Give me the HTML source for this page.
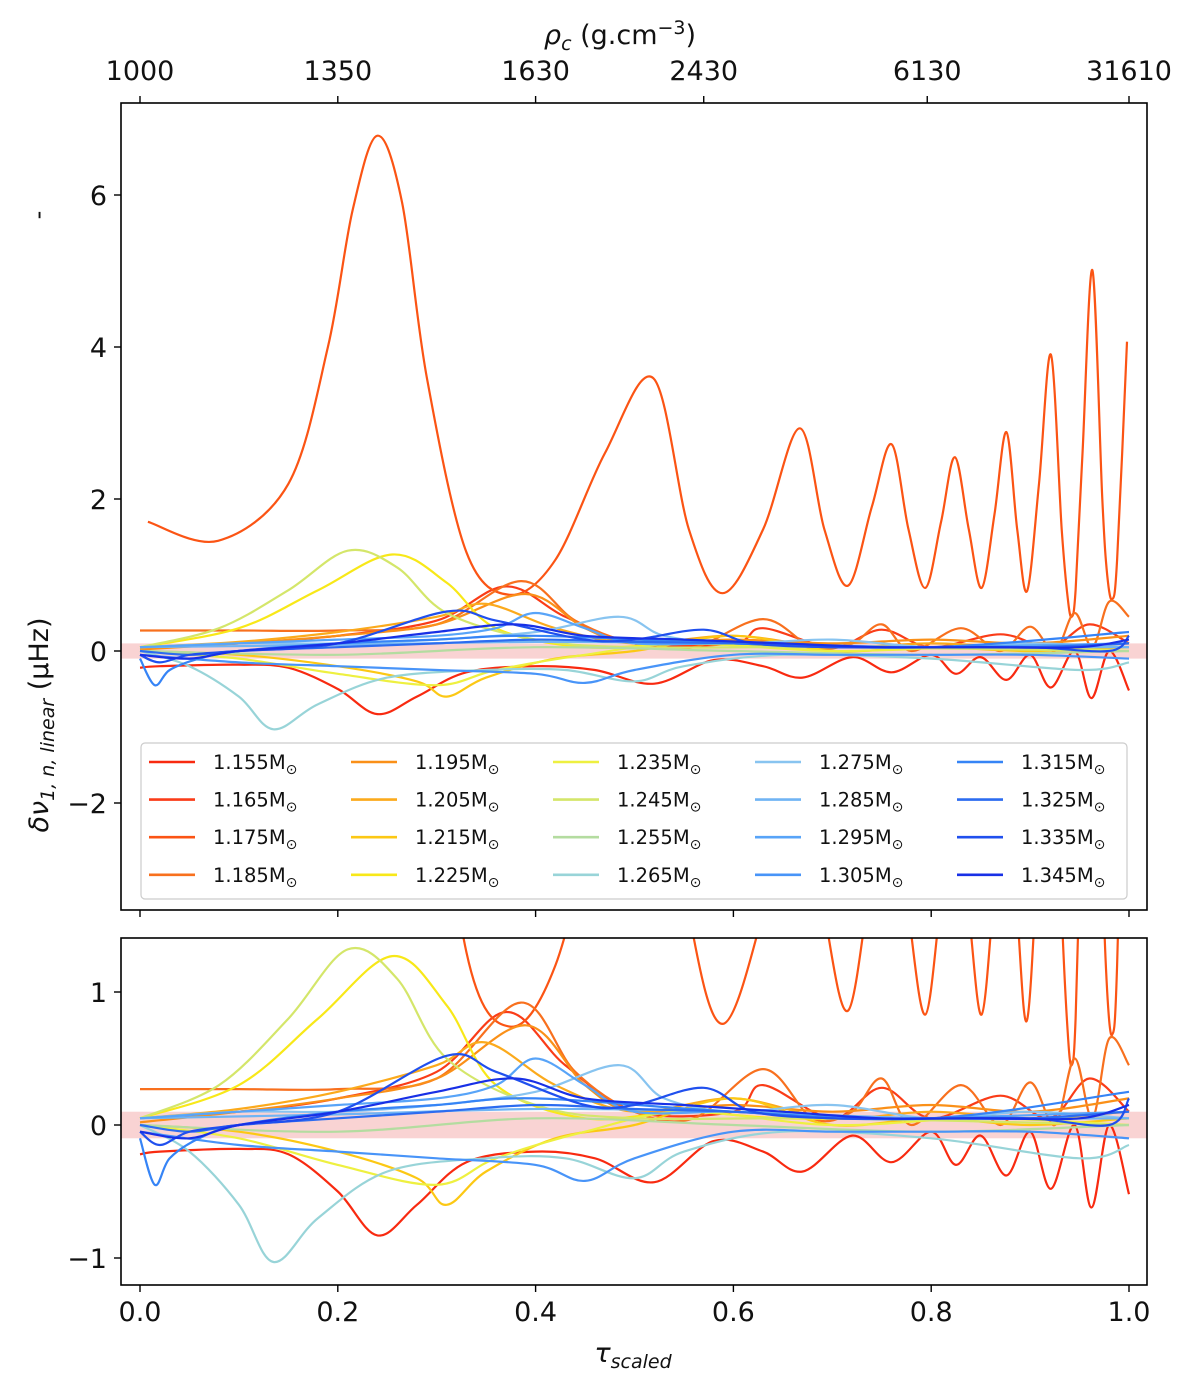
<!DOCTYPE html>
<html><head><meta charset="utf-8"><style>
html,body{margin:0;padding:0;background:#fff;}
svg{display:block;font-family:"DejaVu Sans","Liberation Sans",sans-serif;}
</style></head><body>
<svg id="chart" width="1200" height="1383" viewBox="0 0 1200 1383" xmlns="http://www.w3.org/2000/svg">
<defs>
<clipPath id="clipTop"><rect x="121" y="103" width="1026" height="807"/></clipPath>
<clipPath id="clipBot"><rect x="121" y="938" width="1026" height="347"/></clipPath>
</defs>
<g id="topPanel"></g>
<g id="botPanel"></g>
<g id="axes"></g>
<text x="620" y="44" font-size="27" text-anchor="middle" fill="#111"><tspan font-style="italic">ρ</tspan><tspan font-size="19" dy="6" font-style="italic">c</tspan><tspan dy="-6"> (g.cm</tspan><tspan font-size="19" dy="-10">−3</tspan><tspan dy="10">)</tspan></text>
<text x="633" y="1362" font-size="27" text-anchor="middle" fill="#111"><tspan font-style="italic">τ</tspan><tspan font-size="19" dy="6" font-style="italic">scaled</tspan></text>
<text transform="translate(48,725) rotate(-90)" font-size="27" text-anchor="middle" fill="#111"><tspan font-style="italic">δν</tspan><tspan font-size="19" dy="6" font-style="italic">1, n, linear</tspan><tspan dy="-6"> (μHz)</tspan></text>
<text transform="translate(46,215) rotate(-90)" font-size="24" text-anchor="middle" fill="#111">-</text>
</svg>
<script>
const masses = ["1.155","1.165","1.175","1.185","1.195","1.205","1.215","1.225","1.235","1.245","1.255","1.265","1.275","1.285","1.295","1.305","1.315","1.325","1.335","1.345"];
const colors = ["#f82a10","#fa3c18","#fb5414","#f8701e","#fa9018","#fbaa1c","#fcc814","#f8e818","#eef040","#d4e66a","#b4dca0","#98d4d8","#88c4f0","#70b4f4","#58a4f8","#4894f8","#3684f6","#2c6cf0","#2050ee","#1830e6"];
const t1155=[0,0.02,0.1,0.15,0.2,0.24,0.28,0.33,0.4,0.46,0.52,0.58,0.63,0.67,0.72,0.76,0.8,0.825,0.85,0.876,0.9,0.921,0.945,0.962,0.98,1.0];
const v1155=[-0.22,-0.2,-0.18,-0.22,-0.5,-0.83,-0.6,-0.28,-0.2,-0.25,-0.43,-0.12,-0.2,-0.35,-0.08,-0.28,-0.05,-0.3,-0.08,-0.38,-0.05,-0.48,0.0,-0.62,0.0,-0.52];
const t1165=[0,0.1,0.2,0.3,0.37,0.43,0.5,0.6,0.63,0.7,0.75,0.8,0.87,0.92,0.96,1.0];
const v1165=[0.05,0.1,0.2,0.4,0.85,0.45,0.1,0.1,0.3,0.05,0.28,0.05,0.22,0.05,0.35,0.1];
const t1175=[0.008,0.079,0.15,0.19,0.215,0.24,0.265,0.29,0.33,0.374,0.42,0.47,0.519,0.555,0.589,0.63,0.667,0.692,0.716,0.74,0.76,0.777,0.794,0.81,0.824,0.838,0.851,0.864,0.876,0.887,0.897,0.909,0.921,0.932,0.938,0.942,0.946,0.953,0.963,0.973,0.978,0.983,0.988,0.998];
const v1175=[1.7,1.45,2.2,4.0,5.8,6.78,5.9,3.6,1.3,0.74,1.2,2.6,3.59,1.6,0.76,1.6,2.93,1.6,0.86,1.9,2.72,1.6,0.83,1.7,2.55,1.6,0.83,1.8,2.88,1.6,0.79,2.2,3.9,1.6,0.7,0.45,0.8,2.6,5.01,2.0,1.0,0.68,1.2,4.07];
const t1185=[0,0.1,0.2,0.3,0.385,0.44,0.5,0.56,0.63,0.68,0.72,0.75,0.78,0.83,0.87,0.9,0.925,0.945,0.963,0.98,1.0];
const v1185=[0.27,0.27,0.27,0.35,0.92,0.4,0.1,0.05,0.42,0.05,0.1,0.35,0.0,0.3,0.0,0.32,0.0,0.5,0.05,0.65,0.45];
const t1195=[0,0.1,0.2,0.3,0.39,0.45,0.5,0.6,0.7,0.8,0.9,1.0];
const v1195=[0.02,0.1,0.2,0.35,0.75,0.3,0.1,0.15,0.1,0.15,0.1,0.2];
const t1205=[0,0.1,0.2,0.3,0.35,0.42,0.5,0.6,0.7,0.8,0.9,1.0];
const v1205=[0.05,0.12,0.25,0.45,0.62,0.3,0.1,0.2,0.05,0.1,0.05,0.1];
const t1215=[0,0.1,0.2,0.28,0.31,0.35,0.42,0.5,0.6,0.7,0.8,0.9,1.0];
const v1215=[0,-0.05,-0.2,-0.4,-0.6,-0.35,-0.1,0.0,0.2,0.0,0.05,0.0,0.05];
const t1225=[0,0.1,0.18,0.255,0.31,0.36,0.45,0.55,0.65,0.8,1.0];
const v1225=[0.05,0.3,0.8,1.27,0.9,0.3,0.05,0.1,0.05,0.05,0.05];
const t1235=[0,0.1,0.2,0.3,0.36,0.45,0.55,0.7,0.85,1.0];
const v1235=[0,-0.1,-0.3,-0.45,-0.25,-0.05,0.1,0.0,0.05,0.0];
const t1245=[0,0.08,0.15,0.21,0.26,0.31,0.4,0.5,0.7,1.0];
const v1245=[0.05,0.3,0.8,1.32,1.1,0.5,0.15,0.05,0.05,0.0];
const t1255=[0,0.2,0.4,0.6,0.8,1.0];
const v1255=[0,-0.05,0.05,0.0,-0.05,0.0];
const t1265=[0,0.05,0.1,0.135,0.18,0.25,0.35,0.43,0.5,0.55,0.65,0.8,0.95,1.0];
const v1265=[0,-0.2,-0.6,-1.03,-0.7,-0.35,-0.25,-0.25,-0.4,-0.2,-0.05,-0.1,-0.25,-0.15];
const t1275=[0,0.1,0.2,0.3,0.4,0.485,0.53,0.6,0.7,0.8,0.9,1.0];
const v1275=[0.05,0.1,0.1,0.15,0.25,0.45,0.2,0.1,0.15,0.05,0.1,0.05];
const t1285=[0,0.2,0.4,0.6,0.8,1.0];
const v1285=[0.05,0.08,0.12,0.1,0.05,0.05];
const t1295=[0,0.1,0.2,0.3,0.36,0.4,0.45,0.5,0.6,0.7,0.8,1.0];
const v1295=[0.05,0.1,0.15,0.2,0.3,0.5,0.3,0.1,0.1,0.05,0.05,0.1];
const t1305=[0,0.1,0.2,0.3,0.4,0.45,0.5,0.6,0.7,0.8,0.9,1.0];
const v1305=[-0.05,-0.15,-0.2,-0.25,-0.3,-0.42,-0.25,-0.05,-0.05,-0.05,-0.05,-0.1];
const t1315=[0,0.015,0.03,0.06,0.1,0.2,0.3,0.4,0.6,0.8,1.0];
const v1315=[-0.1,-0.45,-0.25,-0.1,0,0.1,0.15,0.2,0.1,0.05,0.25];
const t1325=[0,0.05,0.1,0.2,0.3,0.4,0.5,0.6,0.7,0.8,0.9,1.0];
const v1325=[0,-0.05,0.0,0.05,0.1,0.15,0.12,0.1,0.05,0.05,0.05,0.1];
const t1335=[0,0.02,0.05,0.1,0.2,0.31,0.36,0.45,0.5,0.57,0.62,0.7,0.8,0.9,0.98,1.0];
const v1335=[-0.05,-0.15,-0.05,0.0,0.1,0.52,0.4,0.15,0.15,0.28,0.1,0.05,0.05,0.05,0.0,0.2];
const t1345=[0,0.05,0.1,0.2,0.3,0.38,0.45,0.55,0.65,0.75,0.85,0.95,1.0];
const v1345=[-0.05,-0.1,0.0,0.1,0.25,0.35,0.2,0.15,0.1,0.05,0.05,0.05,0.15];
const seriesT=[t1155,t1165,t1175,t1185,t1195,t1205,t1215,t1225,t1235,t1245,t1255,t1265,t1275,t1285,t1295,t1305,t1315,t1325,t1335,t1345];
const seriesV=[v1155,v1165,v1175,v1185,v1195,v1205,v1215,v1225,v1235,v1245,v1255,v1265,v1275,v1285,v1295,v1305,v1315,v1325,v1335,v1345];
const xTicks=[0,0.2,0.4,0.6,0.8,1.0];
const xTickLabels=["0.0","0.2","0.4","0.6","0.8","1.0"];
const rhoTicks=[0,0.2,0.4,0.57,0.796,1.0];
const rhoLabels=["1000","1350","1630","2430","6130","31610"];
const topYTicks=[-2,0,2,4,6];
const botYTicks=[-1,0,1];

(function(){
const NS="http://www.w3.org/2000/svg";
const X=t=>140+989*t;
const YT=v=>651-76*v;
const YB=v=>1125-133*v;
function mk(tag,attrs,parent){const e=document.createElementNS(NS,tag);for(const k in attrs)e.setAttribute(k,attrs[k]);parent.appendChild(e);return e;}
function pathD(ts,vs,Y){
  const p=ts.map((t,i)=>[X(t),Y(vs[i])]);
  let d="M"+p[0][0].toFixed(1)+","+p[0][1].toFixed(1);
  for(let i=0;i<p.length-1;i++){
    const p0=p[i-1]||p[i],p1=p[i],p2=p[i+1],p3=p[i+2]||p2;
    const c1=[p1[0]+(p2[0]-p0[0])/6,p1[1]+(p2[1]-p0[1])/6];
    const c2=[p2[0]-(p3[0]-p1[0])/6,p2[1]-(p3[1]-p1[1])/6];
    d+="C"+c1[0].toFixed(1)+","+c1[1].toFixed(1)+" "+c2[0].toFixed(1)+","+c2[1].toFixed(1)+" "+p2[0].toFixed(1)+","+p2[1].toFixed(1);
  }
  return d;
}
const topG=document.getElementById('topPanel'), botG=document.getElementById('botPanel'), ax=document.getElementById('axes');
function panel(g,Y,clip,y0,h){
  const c=mk('g',{'clip-path':'url(#'+clip+')'},g);
  const band=mk('rect',{x:121,y:Y(0.1),width:1026,height:Y(-0.1)-Y(0.1),fill:'#f8c8c8',opacity:0.8},c);
  
  
  seriesT.forEach((ts,i)=>{
    const p=mk('path',{d:pathD(ts,seriesV[i],Y),fill:'none',stroke:colors[i],'stroke-width':2.2,'stroke-linejoin':'round'},c);
    
    
  });
  const fr=mk('rect',{x:121,y:y0,width:1026,height:h,fill:'none',stroke:'#000','stroke-width':1.6},g);
  
  
}
panel(topG,YT,'clipTop',103,807);
panel(botG,YB,'clipBot',938,347);

const lg=mk('g',{},topG);


mk('rect',{x:141,y:743,width:986,height:156,rx:4,fill:'#fff','fill-opacity':0.85,stroke:'#ccc','stroke-width':1.2},lg);
masses.forEach((m,i)=>{
  const col=Math.floor(i/4),row=i%4;
  const lx=149+col*202,ly=762+row*37.6;
  const e=mk('g',{},lg);
  
  
  mk('line',{x1:lx,y1:ly,x2:lx+46,y2:ly,stroke:colors[i],'stroke-width':2.6},e);
  const tx=mk('text',{x:lx+64,y:ly+7,'font-size':19.5,fill:'#111'},e);
  tx.textContent=m+'M';
  const sub=mk('tspan',{'font-size':14,dy:5},tx);
  sub.textContent='⊙';
});

xTicks.forEach((t,i)=>{
  mk('line',{x1:X(t),y1:910,x2:X(t),y2:917,stroke:'#000','stroke-width':1.4},ax);
  mk('line',{x1:X(t),y1:1285,x2:X(t),y2:1292,stroke:'#000','stroke-width':1.4},ax);
  const l=mk('text',{x:X(t),y:1321,'font-size':27,'text-anchor':'middle',fill:'#111'},ax);
  l.textContent=xTickLabels[i];
  
  
});
rhoTicks.forEach((t,i)=>{
  mk('line',{x1:X(t),y1:103,x2:X(t),y2:96,stroke:'#000','stroke-width':1.4},ax);
  const l=mk('text',{x:X(t),y:80,'font-size':27,'text-anchor':'middle',fill:'#111'},ax);
  l.textContent=rhoLabels[i];
  
  
});
topYTicks.forEach(v=>{
  mk('line',{x1:121,y1:YT(v),x2:114,y2:YT(v),stroke:'#000','stroke-width':1.4},ax);
  const l=mk('text',{x:107,y:YT(v)+10,'font-size':27,'text-anchor':'end',fill:'#111'},ax);
  l.textContent=v<0?'\u2212'+(-v):String(v);
  
  
});
botYTicks.forEach(v=>{
  mk('line',{x1:121,y1:YB(v),x2:114,y2:YB(v),stroke:'#000','stroke-width':1.4},ax);
  const l=mk('text',{x:107,y:YB(v)+10,'font-size':27,'text-anchor':'end',fill:'#111'},ax);
  l.textContent=v<0?'\u2212'+(-v):String(v);
  
  
});
})();
</script>
</body></html>
